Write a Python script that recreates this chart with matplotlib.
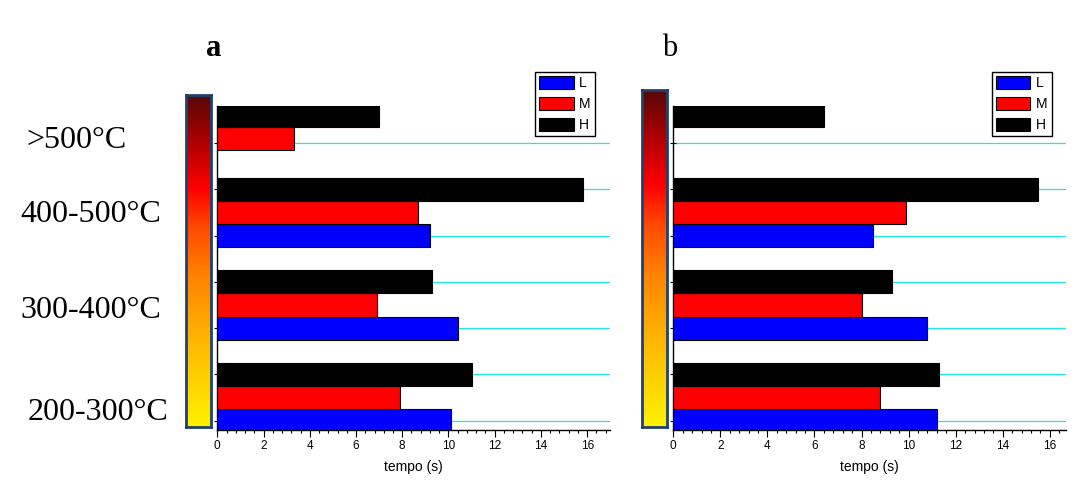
import numpy as np
import matplotlib
matplotlib.use('Agg')
import matplotlib.pyplot as plt
from matplotlib.patches import Patch
from matplotlib.colors import LinearSegmentedColormap
from matplotlib.ticker import AutoMinorLocator

# temperature classes, bottom to top
categories = ['200-300°C', '300-400°C', '400-500°C', '>500°C']
series = ['L', 'M', 'H']
colors = ['#0000ff', '#ff0000', '#000000']

# tempo (s), nan = no bar
a_L = [10.1, 10.4, 9.2, np.nan]
a_M = [7.9, 6.9, 8.7, 3.3]
a_H = [11.0, 9.3, 15.8, 7.0]

b_L = [11.2, 10.8, 8.5, np.nan]
b_M = [8.8, 8.0, 9.9, np.nan]
b_H = [11.3, 9.3, 15.5, 6.4]

group_base = np.array([0, 2, 4, 5.6])
bar_h = 0.5

W, H = 1077, 488
fig = plt.figure(figsize=(W/100, H/100), dpi=100)
plt.rcParams['font.family'] = ['Liberation Sans', 'DejaVu Sans']

heat = LinearSegmentedColormap.from_list('heat', [
    (0.0, '#fff200'), (0.25, '#ffb800'), (0.45, '#ff8400'),
    (0.6, '#ff4a00'), (0.72, '#ff0000'), (0.86, '#b00000'), (1.0, '#560808')])

def panel(left, data, xmax, letter, leg_right, cbar_rect):
    ax = fig.add_axes([left/W, 1-430/H, 393/W, 324/H])
    for i, vals in enumerate(data):
        ax.barh(group_base + i*bar_h, vals, height=bar_h, color=colors[i],
                edgecolor='black', linewidth=0.8, zorder=3)
    ax.set_xlim(0, xmax)
    ax.set_ylim(-0.2, 6.8)
    ax.set_yticks(np.arange(0, 7))
    ax.set_yticklabels([])
    ax.set_xticks(np.arange(0, 17, 2))
    ax.xaxis.set_minor_locator(AutoMinorLocator(5))
    ax.tick_params(axis='x', which='major', direction='out', length=5, width=0.8,
                   labelsize=8.5, pad=2)
    ax.tick_params(axis='x', which='minor', direction='out', length=2.5, width=0.8)
    ax.tick_params(axis='y', direction='inout', length=5, width=0.8)
    ax.grid(axis='y', color='#1ee6e6', linewidth=0.9, zorder=0)
    for s in ['top', 'right']:
        ax.spines[s].set_visible(False)
    for s in ['left', 'bottom']:
        ax.spines[s].set_linewidth(1.0)
    ax.set_xlabel('tempo (s)', fontsize=10, labelpad=6)

    handles = [Patch(facecolor=c, edgecolor='black', linewidth=0.8) for c in colors]
    leg = fig.legend(handles, series, loc='upper right',
                     bbox_to_anchor=(leg_right/W, 1-72/H), fontsize=10,
                     handlelength=2.5, handleheight=1.0, labelspacing=0.5,
                     handletextpad=0.4, borderpad=0.3, borderaxespad=0,
                     fancybox=False, framealpha=1)
    leg.get_frame().set_edgecolor('black')
    leg.get_frame().set_linewidth(1.0)

    cax = fig.add_axes(cbar_rect)
    grad = np.linspace(1, 0, 256).reshape(-1, 1)
    cax.imshow(grad, aspect='auto', cmap=heat, extent=(0, 1, 0, 1))
    cax.set_xticks([])
    cax.set_yticks([])
    for s in cax.spines.values():
        s.set_edgecolor('#1f4170')
        s.set_linewidth(2)

    fig.text((left - 4)/W, 1-48/H, letter, fontsize=22, ha='center', va='center',
             family='Liberation Serif', fontweight='bold' if letter == 'a' else 'normal')
    return ax

panel(217.3, [a_L, a_M, a_H], 17.0, 'a', 595,
      [185.7/W, 1-426.7/H, 25.3/W, 331.7/H])
panel(673.3, [b_L, b_M, b_H], 16.7, 'b', 1051.7,
      [641.7/W, 1-426.7/H, 25/W, 336.7/H])

label_pos = [(98, 412), (91, 310), (91, 214), (77, 140)]
for name, (x, y) in zip(categories, label_pos):
    fig.text(x/W, 1-y/H, name, fontsize=23, ha='center', va='center',
             family='Liberation Serif')

fig.savefig('out.png', dpi=100)
